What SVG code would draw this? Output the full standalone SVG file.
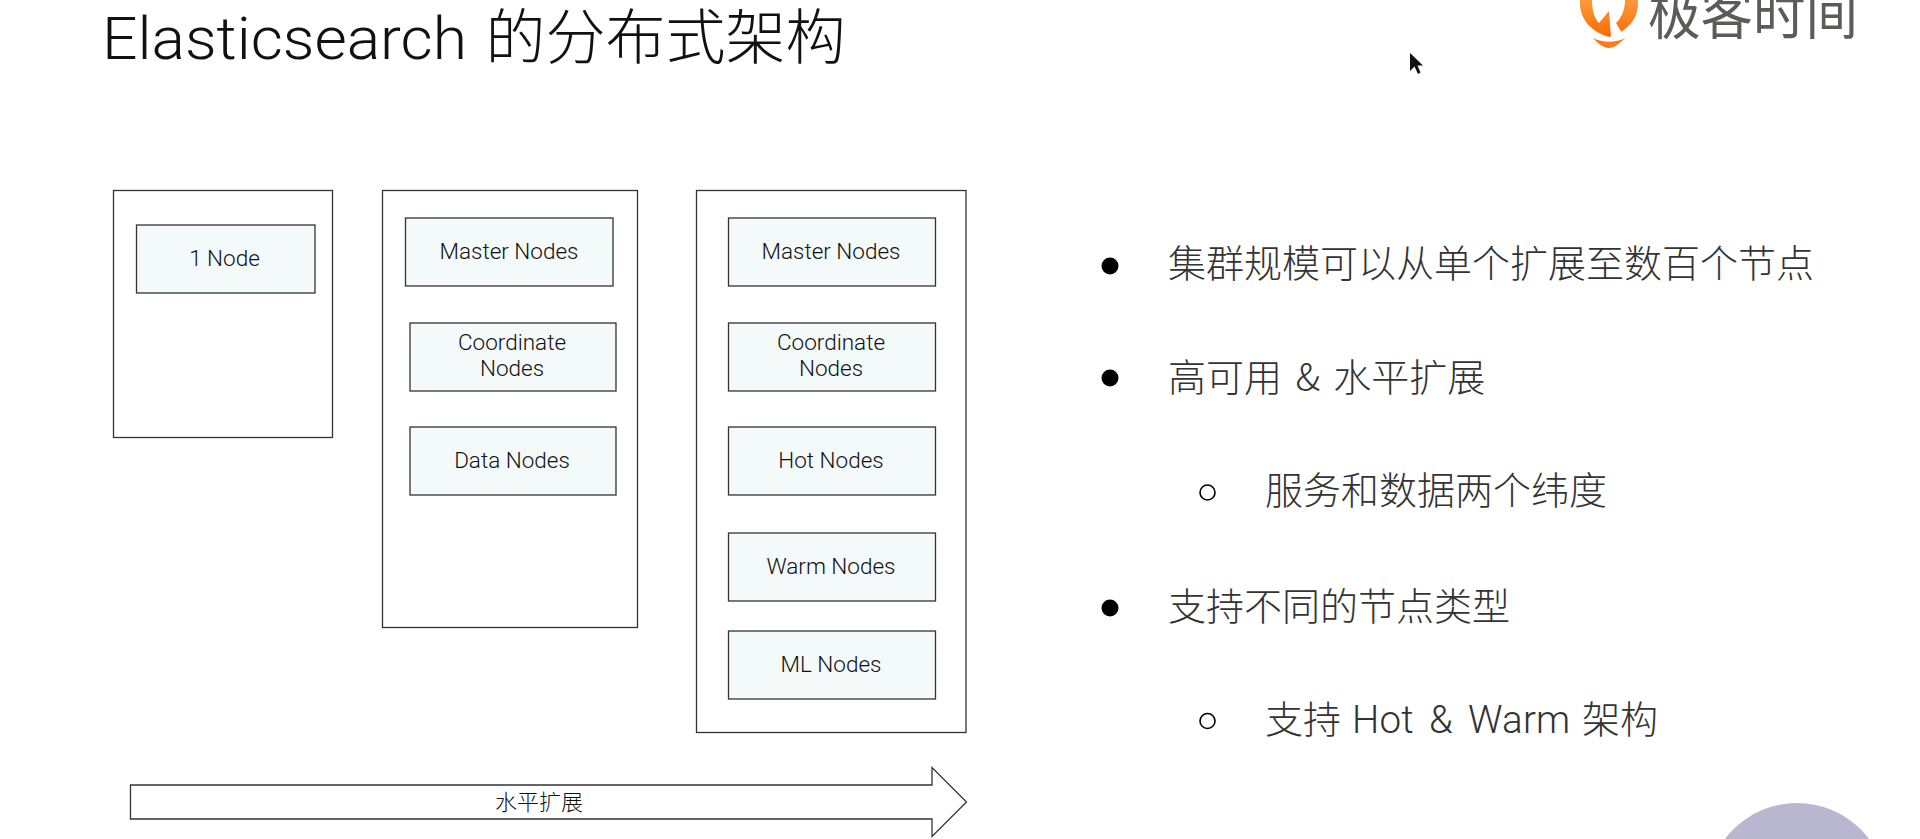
<svg xmlns="http://www.w3.org/2000/svg" width="1920" height="839" viewBox="0 0 1920 839">
<defs>
<linearGradient id="og" x1="0" y1="0" x2="0" y2="1"><stop offset="0" stop-color="#fb9a3c"/><stop offset="1" stop-color="#fb6a05"/></linearGradient>
</defs>
<style>
.outer{fill:#fff;stroke:#333;stroke-width:1.3}
.box{fill:#f4f9f9;stroke:#333;stroke-width:1.3}
.lb{font-family:"Roboto","Liberation Sans","Noto Sans CJK SC",sans-serif;font-weight:300;font-size:22.5px;fill:#111;text-anchor:middle}
.bt{font-family:"Noto Sans CJK SC","Noto Sans",sans-serif;font-size:38px;font-weight:300;fill:#333;word-spacing:5px}
.la{font-family:"Roboto","Liberation Sans",sans-serif;font-weight:300;font-size:38.5px;letter-spacing:.2px}
</style>
<rect width="1920" height="839" fill="#fff"/>
<g id="title"><text x="102" y="59" font-family="Roboto,'Noto Sans CJK SC',sans-serif" font-weight="300" font-size="60px" fill="#111" textLength="365" lengthAdjust="spacingAndGlyphs">Elasticsearch</text><text x="485.500" y="59" font-family="'Noto Sans CJK SC',sans-serif" font-weight="300" font-size="60px" fill="#111">的分布式架构</text></g>
<g id="logo">
<path d="M1580 0C1579 20 1592 32 1609 37C1626 32 1639 20 1638 0Z" fill="url(#og)"/>
<path d="M1592 0C1592 9 1594 18 1599 23L1609 11L1611 37L1623 35L1616 23C1622 17 1625 9 1625 0Z" fill="#fff"/>
<path d="M1593 38C1603 43 1616 43 1625 38C1619 44 1614 48 1609 48C1604 48 1598 44 1593 38Z" fill="#fb7a1a"/>
<text x="1648" y="33.500" font-family="'Noto Sans CJK SC',sans-serif" font-weight="400" font-size="56px" fill="#5d5a5a" textLength="210" lengthAdjust="spacingAndGlyphs">极客时间</text>
</g>
<path id="cursor" d="M1410 53V71L1414.500 66.500L1418 74L1420.500 72.500L1417.500 65.500L1423 65.500Z" fill="#111"/>
<g id="cluster1">
<rect class="outer" x="113.500" y="190.500" width="219" height="247"/>
<g id="n1"><rect class="box" x="136.500" y="225" width="178.500" height="68"/><text class="lb" x="224.500" y="265.500">1 Node</text></g>
</g>
<g id="cluster2">
<rect class="outer" x="382.500" y="190.500" width="255" height="437"/>
<g id="n2"><rect class="box" x="405.500" y="218" width="207.500" height="68"/><text class="lb" x="509" y="258.500">Master Nodes</text></g>
<g id="n3"><rect class="box" x="410" y="323" width="206" height="68"/><text class="lb" x="512" y="349.500">Coordinate</text><text class="lb" x="512" y="375.500">Nodes</text></g>
<g id="n4"><rect class="box" x="410" y="427" width="206" height="68"/><text class="lb" x="512" y="467.500">Data Nodes</text></g>
</g>
<g id="cluster3">
<rect class="outer" x="696.500" y="190.500" width="269.500" height="542"/>
<g id="n5"><rect class="box" x="728.500" y="218" width="207" height="68"/><text class="lb" x="831" y="258.500">Master Nodes</text></g>
<g id="n6"><rect class="box" x="728.500" y="323" width="207" height="68"/><text class="lb" x="831" y="349.500">Coordinate</text><text class="lb" x="831" y="375.500">Nodes</text></g>
<g id="n7"><rect class="box" x="728.500" y="427" width="207" height="68"/><text class="lb" x="831" y="467.500">Hot Nodes</text></g>
<g id="n8"><rect class="box" x="728.500" y="533" width="207" height="68"/><text class="lb" x="831" y="573.500">Warm Nodes</text></g>
<g id="n9"><rect class="box" x="728.500" y="631" width="207" height="68"/><text class="lb" x="831" y="671.500">ML Nodes</text></g>
</g>
<g id="connectors">
<path d="M130.500 785H932V767.500L966.500 802L932 836.500V819H130.500Z" fill="#fff" stroke="#333" stroke-width="1.3"/>
<text x="539" y="809.500" text-anchor="middle" font-family="'Noto Sans CJK SC',sans-serif" font-weight="300" font-size="22px" fill="#111">水平扩展</text>
</g>
<g id="bullets">
<circle cx="1110" cy="266" r="8.500" fill="#000"/><text class="bt" x="1168" y="277">集群规模可以从单个扩展至数百个节点</text>
<circle cx="1110" cy="378" r="8.500" fill="#000"/><text class="bt" x="1168" y="391">高可用 &amp; 水平扩展</text>
<circle cx="1207.500" cy="492.500" r="7.500" fill="none" stroke="#000" stroke-width="1.6"/><text class="bt" x="1265" y="504">服务和数据两个纬度</text>
<circle cx="1110" cy="608" r="8.500" fill="#000"/><text class="bt" x="1168" y="620">支持不同的节点类型</text>
<circle cx="1207.500" cy="721" r="7.500" fill="none" stroke="#000" stroke-width="1.6"/><text class="bt" x="1265" y="733">支持<tspan class="la" x="1352">Hot</tspan><tspan class="la" x="1429">&amp;</tspan><tspan class="la" x="1468">Warm</tspan><tspan x="1582">架构</tspan></text>
</g>
<circle id="avatar" cx="1797" cy="893" r="90" fill="#b9b7cf"/>
</svg>
